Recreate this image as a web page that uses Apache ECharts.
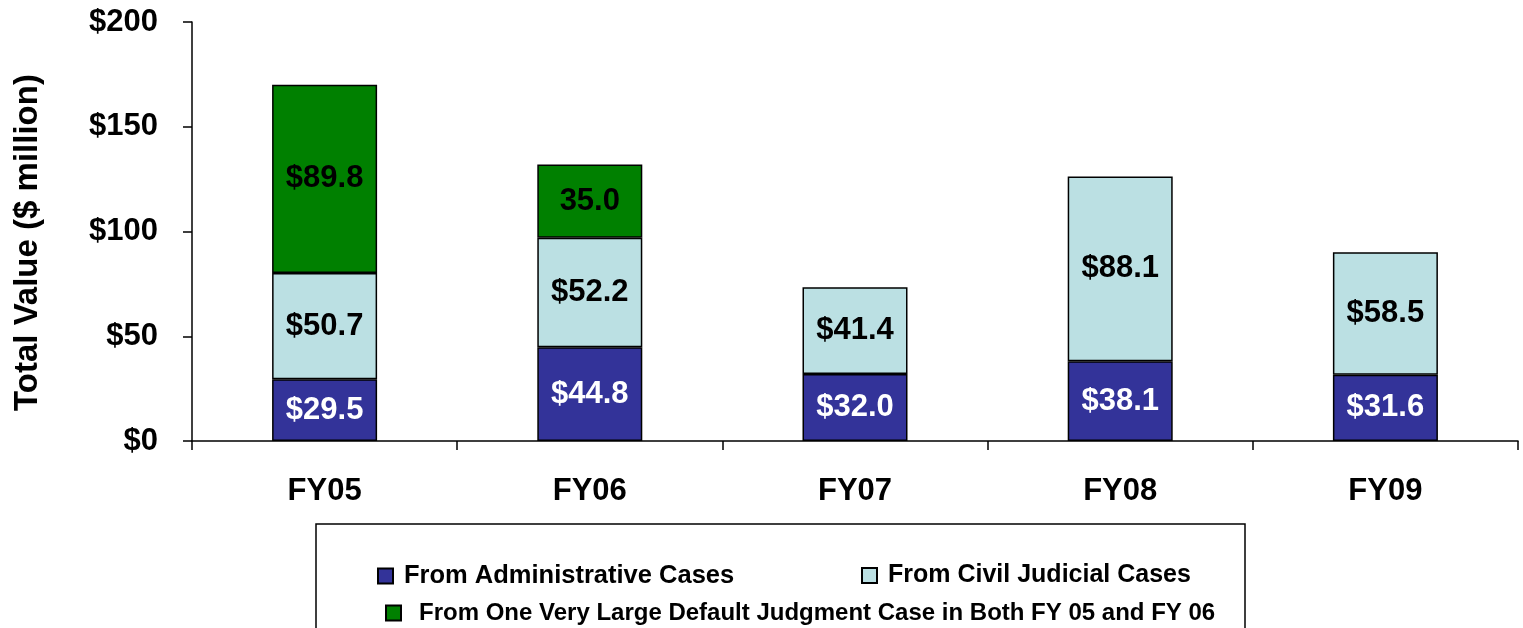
<!DOCTYPE html>
<html>
<head>
<meta charset="utf-8">
<script src="https://cdn.jsdelivr.net/npm/echarts@6/dist/echarts.min.js"></script>
<style>
  html, body { margin: 0; padding: 0; background: #fff; }
  #main { width: 1523px; height: 628px; }
</style>
</head>
<body>
<div id="main"></div>
<script>
var years = ['FY05', 'FY06', 'FY07', 'FY08', 'FY09'];
var adminCases = [29.5, 44.8, 32.0, 38.1, 31.6];
var civilCases = [50.7, 52.2, 41.4, 88.1, 58.5];
var defaultCase = [89.8, 35.0, null, null, null];
// the FY06 label in the original has no dollar sign
var defaultPrefix = ['$', '', '', '', ''];
var yTicks = [0, 50, 100, 150, 200];

var font = "'Liberation Sans', Arial, sans-serif";

var names = [
  'From Administrative Cases',
  'From Civil Judicial Cases',
  'From One Very Large Default Judgment Case in Both FY 05 and FY 06'
];

function label(color, prefix) {
  return {
    show: true,
    position: 'inside',
    color: color,
    fontFamily: font,
    fontWeight: 'bold',
    fontSize: 31,
    formatter: function (p) {
      var pre = prefix ? prefix[p.dataIndex] : '$';
      return pre + p.value.toFixed(1);
    }
  };
}

function legendAt(name, left, top, size, gap) {
  return {
    data: [name],
    left: left,
    top: top,
    padding: 0,
    itemWidth: 15,
    itemHeight: 15,
    icon: 'rect',
    selectedMode: false,
    textStyle: {
      fontFamily: font,
      fontWeight: 'bold',
      fontSize: size,
      color: '#000',
      padding: [0, 0, 0, gap]
    }
  };
}

var chart = echarts.init(document.getElementById('main'), null, { renderer: 'canvas' });

chart.setOption({
  backgroundColor: '#fff',
  animation: false,
  grid: { left: 192, right: 5, top: 22, bottom: 187, outerBoundsMode: 'none', containLabel: false },
  legend: [
    legendAt(names[0], 377, 563, 25.5, 6),
    legendAt(names[1], 861, 563, 25, 6),
    legendAt(names[2], 385, 601, 24, 13)
  ],
  graphic: [{
    type: 'rect',
    shape: { x: 316, y: 524, width: 929, height: 140 },
    style: { fill: 'none', stroke: '#000', lineWidth: 1.5 },
    silent: true
  }],
  xAxis: {
    type: 'category',
    data: years,
    axisLine: { lineStyle: { color: '#000', width: 1.5 } },
    axisTick: { show: true, length: 9, lineStyle: { color: '#000', width: 1.5 } },
    axisLabel: {
      margin: 35,
      color: '#000',
      fontFamily: font,
      fontWeight: 'bold',
      fontSize: 31
    }
  },
  yAxis: {
    type: 'value',
    min: yTicks[0],
    max: yTicks[yTicks.length - 1],
    interval: 50,
    name: 'Total Value ($ million)',
    nameLocation: 'middle',
    nameRotate: 90,
    nameGap: 148,
    nameTextStyle: {
      color: '#000',
      fontFamily: font,
      fontWeight: 'bold',
      fontSize: 33,
      padding: [0, 22, 0, 0]
    },
    splitLine: { show: false },
    axisLine: { show: true, lineStyle: { color: '#000', width: 1.5 } },
    axisTick: { show: true, length: 9, lineStyle: { color: '#000', width: 1.5 } },
    axisLabel: {
      margin: 34,
      color: '#000',
      fontFamily: font,
      fontWeight: 'bold',
      fontSize: 31,
      formatter: '${value}'
    }
  },
  series: [
    {
      name: names[0],
      type: 'bar',
      stack: 'total',
      barWidth: 105,
      data: adminCases,
      itemStyle: { color: '#333399', borderColor: '#000', borderWidth: 1.5 },
      label: label('#fff')
    },
    {
      name: names[1],
      type: 'bar',
      stack: 'total',
      barWidth: 105,
      data: civilCases,
      itemStyle: { color: '#BBE0E3', borderColor: '#000', borderWidth: 1.5 },
      label: label('#000')
    },
    {
      name: names[2],
      type: 'bar',
      stack: 'total',
      barWidth: 105,
      data: defaultCase,
      itemStyle: { color: '#008000', borderColor: '#000', borderWidth: 1.5 },
      label: label('#000', defaultPrefix)
    }
  ]
});
</script>
</body>
</html>
